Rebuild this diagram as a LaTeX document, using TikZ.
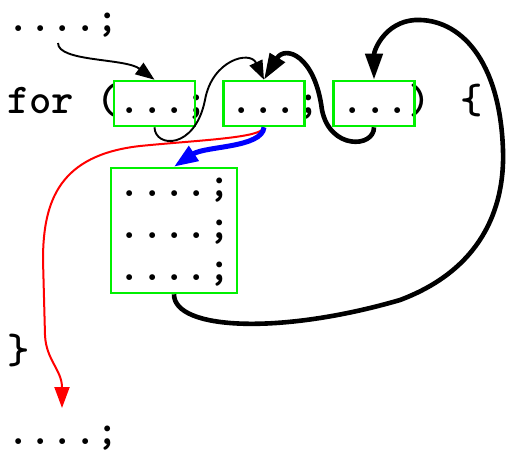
\documentclass[tikz,border=0pt]{standalone}
\usepackage{fontspec}
\usetikzlibrary{arrows.meta}
\definecolor{boxgreen}{RGB}{0,240,0}
\begin{document}
\begin{tikzpicture}[x=1pt,y=-1pt,
  code/.style={anchor=base west,inner sep=0pt,font=\fontsize{42.5}{48}\ttfamily\bfseries},
  gbox/.style={draw=boxgreen,line width=2.6pt,inner sep=0pt,rectangle},
  thinarrow/.style={line width=1.9pt,-{Triangle[length=19pt,width=14pt]}},
  thickarrow/.style={line width=4.6pt,-{Triangle[length=26pt,width=17pt]}},
  bluearrow/.style={blue,line width=5pt,-{Triangle[length=24pt,width=17pt]}},
  redarrow/.style={red,line width=2pt,-{Triangle[length=21pt,width=15pt]}}]
\useasboundingbox[fill=white] (0,0) rectangle (507,451);
% code text
\node[code] (pre) at (7,31) {....;};
\node[code] (forline) at (7,113) {for (...; ...; ...) \{};
\node[code] (s1) at (118.7,196.5) {....;};
\node[code] (s2) at (118.7,238.5) {....;};
\node[code] (s3) at (118.7,280) {....;};
\node[code] (cb) at (7,363.5) {\}};
\node[code] (post) at (7,444) {....;};
% boxes
\node[gbox,minimum width=81pt,minimum height=45pt] (b1) at (154.5,103.5) {};
\node[gbox,minimum width=81pt,minimum height=45pt] (b2) at (264,103.5) {};
\node[gbox,minimum width=81pt,minimum height=45pt] (b3) at (374,103.5) {};
\node[gbox,minimum width=126pt,minimum height=125pt] (body) at (174,230.5) {};
% free-end coordinates
\coordinate (p1) at (58,43);
\coordinate (rend) at (62,408);
% connectors
\draw[thinarrow] (p1) .. controls (58,62) and (125,58) .. (b1.north);
\draw[thinarrow] (b1.south) .. controls (155,148) and (195,150) .. (205,100)
   .. controls (212,60) and (250,50) .. (b2.north);
\draw[thickarrow] (b3.south) .. controls (374,148) and (330,150) .. (322,110)
   .. controls (315,55) and (285,45) .. (b2.north);
\draw[redarrow] (b2.south) .. controls (262,138) and (200,140) .. (140,146)
   .. controls (60,155) and (43,200) .. (43,260)
   -- (45,335) .. controls (46,360) and (62,370) .. (rend);
\draw[bluearrow] (b2.south) .. controls (262,148) and (205,146) .. (body.north);
\draw[thickarrow] (body.south) .. controls (174,330) and (280,335) .. (400,300)
   .. controls (480,270) and (505,210) .. (503,150)
   .. controls (500,60) and (460,18) .. (415,20)
   .. controls (385,22) and (374,50) .. (b3.north);
\end{tikzpicture}
\end{document}
